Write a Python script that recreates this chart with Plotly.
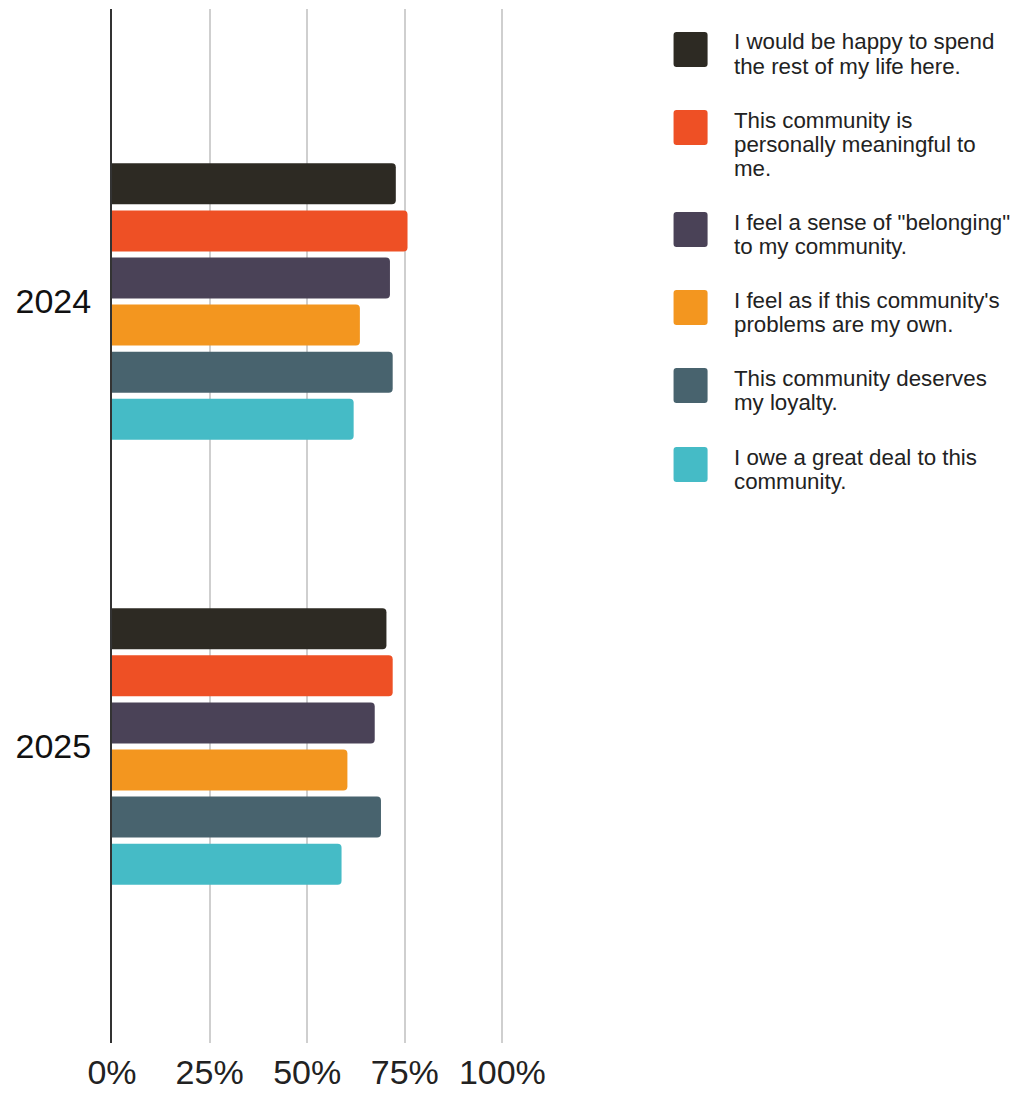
import plotly.graph_objects as go

# ---------------- data ----------------
years = ["2024", "2025"]
series_names = [
    "I would be happy to spend the rest of my life here.",
    "This community is personally meaningful to me.",
    "I feel a sense of \"belonging\" to my community.",
    "I feel as if this community's problems are my own.",
    "This community deserves my loyalty.",
    "I owe a great deal to this community.",
]
legend_lines = [
    ["I would be happy to spend", "the rest of my life here."],
    ["This community is", "personally meaningful to", "me."],
    ["I feel a sense of \"belonging\"", "to my community."],
    ["I feel as if this community's", "problems are my own."],
    ["This community deserves", "my loyalty."],
    ["I owe a great deal to this", "community."],
]
happy_rest_of_life = [0.727, 0.703]
personally_meaningful = [0.757, 0.719]
sense_of_belonging = [0.712, 0.673]
problems_my_own = [0.635, 0.603]
deserves_loyalty = [0.719, 0.689]
owe_great_deal = [0.619, 0.588]
series_values = [happy_rest_of_life, personally_meaningful, sense_of_belonging,
                 problems_my_own, deserves_loyalty, owe_great_deal]
colors = ["#2d2a23", "#ee5025", "#4a4257", "#f3961f", "#48636e", "#45bbc6"]
x_tickvals = [0, 0.25, 0.5, 0.75, 1.0]
x_ticktext = ["0%", "25%", "50%", "75%", "100%"]

# ---------------- geometry (screen px) ----------------
OFF = 8                      # default body margin of the html page
W, H = 1029 - 2 * OFF, 1103 - 2 * OFF
X_MAX = 1.04
PX0 = 112                    # screen x of 0%
PX_UNIT = 390.0              # screen px per 100%
PX1 = PX0 + PX_UNIT * X_MAX
PY0, PY1 = 9, 1043           # plot area y in screen px
ml = PX0 - OFF
mt = PY0 - OFF
mr = W - ml - (PX1 - PX0)
mb = H - mt - (PY1 - PY0)

def xp(sx):
    return (sx - PX0) / (PX1 - PX0)

def yp(sy):
    return (PY1 - sy) / (PY1 - PY0)

FONT = "Liberation Sans, Arial, Helvetica, sans-serif"

fig = go.Figure()
for name, vals, col in zip(series_names, series_values, colors):
    fig.add_trace(go.Bar(
        y=years, x=vals, name=name, orientation="h",
        marker=dict(color=col, line=dict(width=0)),
        hovertemplate="%{y}: %{x:.0%}<extra>" + name + "</extra>",
    ))

# ---------------- custom legend ----------------
shapes = []
annotations = []
first_line_centers = [42, 120, 222, 300, 378, 457]
pitch = 24.4
for lines, col, cy in zip(legend_lines, colors, first_line_centers):
    top = cy - 10
    x0, x1, y0, y1 = 673, 707, top, top + 35
    r = 3
    path = (f"M {xp(x0 + r)} {yp(y0)} L {xp(x1 - r)} {yp(y0)} "
            f"Q {xp(x1)} {yp(y0)} {xp(x1)} {yp(y0 + r)} "
            f"L {xp(x1)} {yp(y1 - r)} Q {xp(x1)} {yp(y1)} {xp(x1 - r)} {yp(y1)} "
            f"L {xp(x0 + r)} {yp(y1)} Q {xp(x0)} {yp(y1)} {xp(x0)} {yp(y1 - r)} "
            f"L {xp(x0)} {yp(y0 + r)} Q {xp(x0)} {yp(y0)} {xp(x0 + r)} {yp(y0)} Z")
    shapes.append(dict(type="path", xref="paper", yref="paper", path=path,
                       fillcolor=col, line=dict(width=0)))
    for i, txt in enumerate(lines):
        annotations.append(dict(
            xref="paper", yref="paper", x=xp(732), y=yp(cy + i * pitch),
            xanchor="left", yanchor="middle", showarrow=False, text=txt,
            font=dict(family=FONT, size=22.3, color="#222222"),
            borderpad=0,
        ))

fig.update_layout(
    width=W, height=H,
    margin=dict(l=ml, r=mr, t=mt, b=mb, pad=0, autoexpand=False),
    paper_bgcolor="white", plot_bgcolor="white",
    barmode="group", bargap=0.365, bargroupgap=0.13,
    barcornerradius=4,
    showlegend=False,
    shapes=shapes, annotations=annotations,
    font=dict(family=FONT, color="#222222"),
)
fig.update_xaxes(
    range=[0, X_MAX], tickvals=x_tickvals, ticktext=x_ticktext,
    showgrid=True, gridcolor="#cfcfcf", gridwidth=2,
    zeroline=False, showline=False, ticks="", automargin=False,
    tickfont=dict(family=FONT, size=34, color="#222222"),
    ticklabelstandoff=6, fixedrange=True,
)
fig.update_yaxes(
    type="category", categoryorder="array", categoryarray=years,
    range=[1.6665, -0.6575], automargin=False,
    showgrid=False, zeroline=False,
    showline=True, linecolor="#333333", linewidth=2,
    ticks="", tickfont=dict(family=FONT, size=34, color="#111111"),
    ticklabelstandoff=12, fixedrange=True,
)

fig.write_html("out.html")
